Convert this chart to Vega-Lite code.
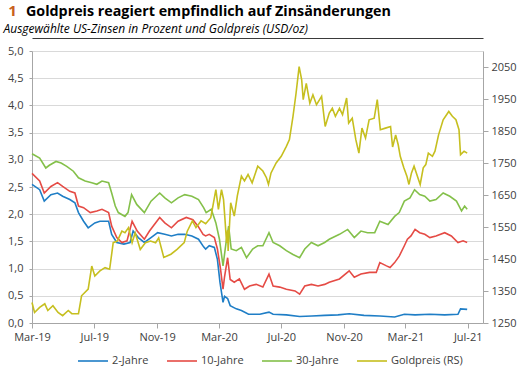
{
  "$schema": "https://vega.github.io/schema/vega-lite/v6.json",
  "width": 451,
  "height": 272,
  "autosize": {"type": "none"},
  "padding": {"left": 32, "top": 51, "right": 43, "bottom": 52},
  "background": "white",
  "config": {
    "locale": {"number": {"decimal": ",", "thousands": ".", "grouping": [3], "currency": ["", " €"]}},
    "font": "Open Sans",
    "view": {"stroke": null},
    "axis": {"labelFont": "Open Sans", "labelFontSize": 11, "labelColor": "#404040", "domainColor": "#a6a6a6", "tickColor": "#a6a6a6", "gridColor": "#d9d9d9", "labelFlush": false}
  },
  "title": {
    "text": "Goldpreis reagiert empfindlich auf Zinsänderungen",
    "anchor": "start",
    "frame": "group",
    "dx": -6,
    "offset": -15.5,
    "font": "Open Sans",
    "fontSize": 14.3,
    "fontWeight": "bold",
    "color": "#000000"
  },
  "data": {"values": [
    {"d":"2019-03-01","s":"2-Jahre","v":2.55},{"d":"2019-03-16","s":"2-Jahre","v":2.45},{"d":"2019-03-25","s":"2-Jahre","v":2.24},{"d":"2019-04-07","s":"2-Jahre","v":2.36},{"d":"2019-04-20","s":"2-Jahre","v":2.39},{"d":"2019-04-30","s":"2-Jahre","v":2.33},{"d":"2019-05-14","s":"2-Jahre","v":2.27},{"d":"2019-05-24","s":"2-Jahre","v":2.21},{"d":"2019-05-31","s":"2-Jahre","v":2.03},{"d":"2019-06-10","s":"2-Jahre","v":1.87},{"d":"2019-06-19","s":"2-Jahre","v":1.75},{"d":"2019-07-02","s":"2-Jahre","v":1.84},{"d":"2019-07-12","s":"2-Jahre","v":1.87},{"d":"2019-07-29","s":"2-Jahre","v":1.87},{"d":"2019-08-04","s":"2-Jahre","v":1.63},{"d":"2019-08-14","s":"2-Jahre","v":1.48},{"d":"2019-08-28","s":"2-Jahre","v":1.45},{"d":"2019-09-09","s":"2-Jahre","v":1.48},{"d":"2019-09-15","s":"2-Jahre","v":1.69},{"d":"2019-09-25","s":"2-Jahre","v":1.57},{"d":"2019-10-07","s":"2-Jahre","v":1.48},{"d":"2019-10-20","s":"2-Jahre","v":1.57},{"d":"2019-11-02","s":"2-Jahre","v":1.66},{"d":"2019-11-16","s":"2-Jahre","v":1.63},{"d":"2019-11-29","s":"2-Jahre","v":1.6},{"d":"2019-12-12","s":"2-Jahre","v":1.63},{"d":"2019-12-25","s":"2-Jahre","v":1.63},{"d":"2020-01-08","s":"2-Jahre","v":1.6},{"d":"2020-01-21","s":"2-Jahre","v":1.54},{"d":"2020-01-31","s":"2-Jahre","v":1.4},{"d":"2020-02-04","s":"2-Jahre","v":1.36},{"d":"2020-02-11","s":"2-Jahre","v":1.42},{"d":"2020-02-21","s":"2-Jahre","v":1.39},{"d":"2020-02-27","s":"2-Jahre","v":1.17},{"d":"2020-03-03","s":"2-Jahre","v":0.75},{"d":"2020-03-09","s":"2-Jahre","v":0.38},{"d":"2020-03-12","s":"2-Jahre","v":0.49},{"d":"2020-03-18","s":"2-Jahre","v":0.45},{"d":"2020-03-23","s":"2-Jahre","v":0.32},{"d":"2020-04-04","s":"2-Jahre","v":0.26},{"d":"2020-04-14","s":"2-Jahre","v":0.23},{"d":"2020-04-28","s":"2-Jahre","v":0.16},{"d":"2020-05-20","s":"2-Jahre","v":0.16},{"d":"2020-06-07","s":"2-Jahre","v":0.2},{"d":"2020-06-15","s":"2-Jahre","v":0.16},{"d":"2020-07-11","s":"2-Jahre","v":0.15},{"d":"2020-08-06","s":"2-Jahre","v":0.12},{"d":"2020-08-30","s":"2-Jahre","v":0.13},{"d":"2020-09-24","s":"2-Jahre","v":0.14},{"d":"2020-10-20","s":"2-Jahre","v":0.15},{"d":"2020-11-11","s":"2-Jahre","v":0.17},{"d":"2020-12-10","s":"2-Jahre","v":0.14},{"d":"2021-01-10","s":"2-Jahre","v":0.13},{"d":"2021-02-08","s":"2-Jahre","v":0.11},{"d":"2021-02-27","s":"2-Jahre","v":0.16},{"d":"2021-03-20","s":"2-Jahre","v":0.15},{"d":"2021-04-18","s":"2-Jahre","v":0.16},{"d":"2021-05-17","s":"2-Jahre","v":0.15},{"d":"2021-06-12","s":"2-Jahre","v":0.16},{"d":"2021-06-17","s":"2-Jahre","v":0.26},{"d":"2021-06-30","s":"2-Jahre","v":0.25},
    {"d":"2019-03-01","s":"10-Jahre","v":2.75},{"d":"2019-03-16","s":"10-Jahre","v":2.61},{"d":"2019-03-25","s":"10-Jahre","v":2.39},{"d":"2019-04-07","s":"10-Jahre","v":2.51},{"d":"2019-04-20","s":"10-Jahre","v":2.58},{"d":"2019-04-30","s":"10-Jahre","v":2.51},{"d":"2019-05-14","s":"10-Jahre","v":2.42},{"d":"2019-05-24","s":"10-Jahre","v":2.39},{"d":"2019-05-31","s":"10-Jahre","v":2.15},{"d":"2019-06-10","s":"10-Jahre","v":2.12},{"d":"2019-06-23","s":"10-Jahre","v":2.03},{"d":"2019-07-06","s":"10-Jahre","v":2.06},{"d":"2019-07-16","s":"10-Jahre","v":2.09},{"d":"2019-07-29","s":"10-Jahre","v":2.03},{"d":"2019-08-04","s":"10-Jahre","v":1.78},{"d":"2019-08-14","s":"10-Jahre","v":1.57},{"d":"2019-08-24","s":"10-Jahre","v":1.48},{"d":"2019-09-03","s":"10-Jahre","v":1.51},{"d":"2019-09-13","s":"10-Jahre","v":1.87},{"d":"2019-09-23","s":"10-Jahre","v":1.69},{"d":"2019-10-07","s":"10-Jahre","v":1.54},{"d":"2019-10-17","s":"10-Jahre","v":1.69},{"d":"2019-11-06","s":"10-Jahre","v":1.94},{"d":"2019-11-16","s":"10-Jahre","v":1.84},{"d":"2019-11-29","s":"10-Jahre","v":1.75},{"d":"2019-12-12","s":"10-Jahre","v":1.87},{"d":"2019-12-28","s":"10-Jahre","v":1.94},{"d":"2020-01-10","s":"10-Jahre","v":1.9},{"d":"2020-01-20","s":"10-Jahre","v":1.78},{"d":"2020-01-30","s":"10-Jahre","v":1.63},{"d":"2020-02-04","s":"10-Jahre","v":1.6},{"d":"2020-02-11","s":"10-Jahre","v":1.63},{"d":"2020-02-21","s":"10-Jahre","v":1.57},{"d":"2020-02-27","s":"10-Jahre","v":1.36},{"d":"2020-03-04","s":"10-Jahre","v":1.0},{"d":"2020-03-09","s":"10-Jahre","v":0.62},{"d":"2020-03-12","s":"10-Jahre","v":0.85},{"d":"2020-03-18","s":"10-Jahre","v":1.2},{"d":"2020-03-23","s":"10-Jahre","v":0.8},{"d":"2020-03-31","s":"10-Jahre","v":0.75},{"d":"2020-04-10","s":"10-Jahre","v":0.81},{"d":"2020-04-20","s":"10-Jahre","v":0.62},{"d":"2020-04-30","s":"10-Jahre","v":0.68},{"d":"2020-05-13","s":"10-Jahre","v":0.71},{"d":"2020-05-26","s":"10-Jahre","v":0.66},{"d":"2020-06-07","s":"10-Jahre","v":0.9},{"d":"2020-06-15","s":"10-Jahre","v":0.68},{"d":"2020-06-28","s":"10-Jahre","v":0.66},{"d":"2020-07-11","s":"10-Jahre","v":0.62},{"d":"2020-07-28","s":"10-Jahre","v":0.59},{"d":"2020-08-06","s":"10-Jahre","v":0.53},{"d":"2020-08-16","s":"10-Jahre","v":0.68},{"d":"2020-08-29","s":"10-Jahre","v":0.71},{"d":"2020-09-11","s":"10-Jahre","v":0.68},{"d":"2020-09-24","s":"10-Jahre","v":0.71},{"d":"2020-10-03","s":"10-Jahre","v":0.75},{"d":"2020-10-23","s":"10-Jahre","v":0.81},{"d":"2020-11-11","s":"10-Jahre","v":0.96},{"d":"2020-11-21","s":"10-Jahre","v":0.84},{"d":"2020-12-04","s":"10-Jahre","v":0.9},{"d":"2020-12-21","s":"10-Jahre","v":0.93},{"d":"2021-01-03","s":"10-Jahre","v":0.93},{"d":"2021-01-10","s":"10-Jahre","v":1.11},{"d":"2021-01-23","s":"10-Jahre","v":1.05},{"d":"2021-01-30","s":"10-Jahre","v":1.02},{"d":"2021-02-08","s":"10-Jahre","v":1.11},{"d":"2021-02-17","s":"10-Jahre","v":1.23},{"d":"2021-02-27","s":"10-Jahre","v":1.42},{"d":"2021-03-05","s":"10-Jahre","v":1.54},{"d":"2021-03-12","s":"10-Jahre","v":1.6},{"d":"2021-03-20","s":"10-Jahre","v":1.72},{"d":"2021-03-29","s":"10-Jahre","v":1.66},{"d":"2021-04-08","s":"10-Jahre","v":1.63},{"d":"2021-04-18","s":"10-Jahre","v":1.57},{"d":"2021-04-30","s":"10-Jahre","v":1.6},{"d":"2021-05-17","s":"10-Jahre","v":1.66},{"d":"2021-05-30","s":"10-Jahre","v":1.6},{"d":"2021-06-12","s":"10-Jahre","v":1.48},{"d":"2021-06-22","s":"10-Jahre","v":1.51},{"d":"2021-06-30","s":"10-Jahre","v":1.48},
    {"d":"2019-03-01","s":"30-Jahre","v":3.11},{"d":"2019-03-16","s":"30-Jahre","v":3.03},{"d":"2019-03-28","s":"30-Jahre","v":2.85},{"d":"2019-04-04","s":"30-Jahre","v":2.9},{"d":"2019-04-17","s":"30-Jahre","v":2.97},{"d":"2019-04-27","s":"30-Jahre","v":2.94},{"d":"2019-05-08","s":"30-Jahre","v":2.88},{"d":"2019-05-21","s":"30-Jahre","v":2.79},{"d":"2019-05-31","s":"30-Jahre","v":2.67},{"d":"2019-06-13","s":"30-Jahre","v":2.61},{"d":"2019-06-26","s":"30-Jahre","v":2.58},{"d":"2019-07-06","s":"30-Jahre","v":2.55},{"d":"2019-07-16","s":"30-Jahre","v":2.61},{"d":"2019-07-29","s":"30-Jahre","v":2.58},{"d":"2019-08-04","s":"30-Jahre","v":2.39},{"d":"2019-08-11","s":"30-Jahre","v":2.15},{"d":"2019-08-17","s":"30-Jahre","v":2.03},{"d":"2019-08-30","s":"30-Jahre","v":1.96},{"d":"2019-09-05","s":"30-Jahre","v":2.03},{"d":"2019-09-12","s":"30-Jahre","v":2.36},{"d":"2019-09-22","s":"30-Jahre","v":2.18},{"d":"2019-10-07","s":"30-Jahre","v":2.03},{"d":"2019-10-20","s":"30-Jahre","v":2.24},{"d":"2019-11-06","s":"30-Jahre","v":2.39},{"d":"2019-11-16","s":"30-Jahre","v":2.3},{"d":"2019-11-29","s":"30-Jahre","v":2.21},{"d":"2019-12-12","s":"30-Jahre","v":2.3},{"d":"2019-12-25","s":"30-Jahre","v":2.36},{"d":"2020-01-08","s":"30-Jahre","v":2.33},{"d":"2020-01-21","s":"30-Jahre","v":2.27},{"d":"2020-01-31","s":"30-Jahre","v":2.12},{"d":"2020-02-05","s":"30-Jahre","v":2.03},{"d":"2020-02-15","s":"30-Jahre","v":2.09},{"d":"2020-02-24","s":"30-Jahre","v":1.84},{"d":"2020-03-02","s":"30-Jahre","v":1.54},{"d":"2020-03-09","s":"30-Jahre","v":1.05},{"d":"2020-03-15","s":"30-Jahre","v":1.48},{"d":"2020-03-20","s":"30-Jahre","v":1.78},{"d":"2020-03-25","s":"30-Jahre","v":1.36},{"d":"2020-04-04","s":"30-Jahre","v":1.33},{"d":"2020-04-14","s":"30-Jahre","v":1.39},{"d":"2020-04-24","s":"30-Jahre","v":1.2},{"d":"2020-05-06","s":"30-Jahre","v":1.36},{"d":"2020-05-16","s":"30-Jahre","v":1.42},{"d":"2020-05-26","s":"30-Jahre","v":1.42},{"d":"2020-06-07","s":"30-Jahre","v":1.66},{"d":"2020-06-15","s":"30-Jahre","v":1.48},{"d":"2020-06-28","s":"30-Jahre","v":1.42},{"d":"2020-07-11","s":"30-Jahre","v":1.33},{"d":"2020-07-24","s":"30-Jahre","v":1.26},{"d":"2020-08-06","s":"30-Jahre","v":1.2},{"d":"2020-08-16","s":"30-Jahre","v":1.36},{"d":"2020-08-29","s":"30-Jahre","v":1.48},{"d":"2020-09-11","s":"30-Jahre","v":1.42},{"d":"2020-09-24","s":"30-Jahre","v":1.48},{"d":"2020-10-03","s":"30-Jahre","v":1.54},{"d":"2020-10-23","s":"30-Jahre","v":1.63},{"d":"2020-11-08","s":"30-Jahre","v":1.72},{"d":"2020-11-21","s":"30-Jahre","v":1.57},{"d":"2020-12-04","s":"30-Jahre","v":1.69},{"d":"2020-12-17","s":"30-Jahre","v":1.66},{"d":"2020-12-31","s":"30-Jahre","v":1.66},{"d":"2021-01-10","s":"30-Jahre","v":1.87},{"d":"2021-01-26","s":"30-Jahre","v":1.81},{"d":"2021-02-08","s":"30-Jahre","v":1.96},{"d":"2021-02-17","s":"30-Jahre","v":2.03},{"d":"2021-02-27","s":"30-Jahre","v":2.24},{"d":"2021-03-10","s":"30-Jahre","v":2.3},{"d":"2021-03-19","s":"30-Jahre","v":2.45},{"d":"2021-03-29","s":"30-Jahre","v":2.36},{"d":"2021-04-08","s":"30-Jahre","v":2.33},{"d":"2021-04-18","s":"30-Jahre","v":2.24},{"d":"2021-04-30","s":"30-Jahre","v":2.27},{"d":"2021-05-14","s":"30-Jahre","v":2.39},{"d":"2021-05-27","s":"30-Jahre","v":2.33},{"d":"2021-06-09","s":"30-Jahre","v":2.24},{"d":"2021-06-19","s":"30-Jahre","v":2.06},{"d":"2021-06-25","s":"30-Jahre","v":2.15},{"d":"2021-06-30","s":"30-Jahre","v":2.09},
    {"d":"2019-03-01","s":"Goldpreis (RS)","v":1314},{"d":"2019-03-06","s":"Goldpreis (RS)","v":1283},{"d":"2019-03-16","s":"Goldpreis (RS)","v":1299},{"d":"2019-03-26","s":"Goldpreis (RS)","v":1310},{"d":"2019-04-01","s":"Goldpreis (RS)","v":1289},{"d":"2019-04-11","s":"Goldpreis (RS)","v":1304},{"d":"2019-04-21","s":"Goldpreis (RS)","v":1283},{"d":"2019-04-30","s":"Goldpreis (RS)","v":1273},{"d":"2019-05-11","s":"Goldpreis (RS)","v":1289},{"d":"2019-05-18","s":"Goldpreis (RS)","v":1279},{"d":"2019-05-31","s":"Goldpreis (RS)","v":1279},{"d":"2019-06-06","s":"Goldpreis (RS)","v":1335},{"d":"2019-06-19","s":"Goldpreis (RS)","v":1356},{"d":"2019-06-26","s":"Goldpreis (RS)","v":1428},{"d":"2019-07-02","s":"Goldpreis (RS)","v":1397},{"d":"2019-07-12","s":"Goldpreis (RS)","v":1413},{"d":"2019-07-22","s":"Goldpreis (RS)","v":1423},{"d":"2019-07-31","s":"Goldpreis (RS)","v":1418},{"d":"2019-08-07","s":"Goldpreis (RS)","v":1501},{"d":"2019-08-15","s":"Goldpreis (RS)","v":1506},{"d":"2019-08-24","s":"Goldpreis (RS)","v":1537},{"d":"2019-08-30","s":"Goldpreis (RS)","v":1532},{"d":"2019-09-06","s":"Goldpreis (RS)","v":1548},{"d":"2019-09-13","s":"Goldpreis (RS)","v":1501},{"d":"2019-09-19","s":"Goldpreis (RS)","v":1532},{"d":"2019-09-29","s":"Goldpreis (RS)","v":1480},{"d":"2019-10-09","s":"Goldpreis (RS)","v":1501},{"d":"2019-10-19","s":"Goldpreis (RS)","v":1506},{"d":"2019-10-29","s":"Goldpreis (RS)","v":1501},{"d":"2019-11-04","s":"Goldpreis (RS)","v":1516},{"d":"2019-11-14","s":"Goldpreis (RS)","v":1455},{"d":"2019-11-28","s":"Goldpreis (RS)","v":1465},{"d":"2019-12-10","s":"Goldpreis (RS)","v":1480},{"d":"2019-12-24","s":"Goldpreis (RS)","v":1501},{"d":"2019-12-30","s":"Goldpreis (RS)","v":1537},{"d":"2020-01-09","s":"Goldpreis (RS)","v":1569},{"d":"2020-01-16","s":"Goldpreis (RS)","v":1548},{"d":"2020-01-26","s":"Goldpreis (RS)","v":1569},{"d":"2020-02-04","s":"Goldpreis (RS)","v":1560},{"d":"2020-02-14","s":"Goldpreis (RS)","v":1579},{"d":"2020-02-24","s":"Goldpreis (RS)","v":1667},{"d":"2020-02-29","s":"Goldpreis (RS)","v":1605},{"d":"2020-03-06","s":"Goldpreis (RS)","v":1667},{"d":"2020-03-10","s":"Goldpreis (RS)","v":1636},{"d":"2020-03-13","s":"Goldpreis (RS)","v":1570},{"d":"2020-03-16","s":"Goldpreis (RS)","v":1500},{"d":"2020-03-18","s":"Goldpreis (RS)","v":1540},{"d":"2020-03-19","s":"Goldpreis (RS)","v":1475},{"d":"2020-03-24","s":"Goldpreis (RS)","v":1626},{"d":"2020-03-31","s":"Goldpreis (RS)","v":1584},{"d":"2020-04-06","s":"Goldpreis (RS)","v":1647},{"d":"2020-04-14","s":"Goldpreis (RS)","v":1709},{"d":"2020-04-20","s":"Goldpreis (RS)","v":1694},{"d":"2020-04-27","s":"Goldpreis (RS)","v":1714},{"d":"2020-05-05","s":"Goldpreis (RS)","v":1688},{"d":"2020-05-16","s":"Goldpreis (RS)","v":1740},{"d":"2020-05-26","s":"Goldpreis (RS)","v":1725},{"d":"2020-06-02","s":"Goldpreis (RS)","v":1704},{"d":"2020-06-06","s":"Goldpreis (RS)","v":1683},{"d":"2020-06-11","s":"Goldpreis (RS)","v":1719},{"d":"2020-06-21","s":"Goldpreis (RS)","v":1750},{"d":"2020-07-01","s":"Goldpreis (RS)","v":1771},{"d":"2020-07-11","s":"Goldpreis (RS)","v":1802},{"d":"2020-07-17","s":"Goldpreis (RS)","v":1823},{"d":"2020-07-24","s":"Goldpreis (RS)","v":1896},{"d":"2020-07-30","s":"Goldpreis (RS)","v":1968},{"d":"2020-08-05","s":"Goldpreis (RS)","v":2051},{"d":"2020-08-10","s":"Goldpreis (RS)","v":2010},{"d":"2020-08-13","s":"Goldpreis (RS)","v":1948},{"d":"2020-08-19","s":"Goldpreis (RS)","v":1999},{"d":"2020-08-26","s":"Goldpreis (RS)","v":1937},{"d":"2020-09-01","s":"Goldpreis (RS)","v":1963},{"d":"2020-09-08","s":"Goldpreis (RS)","v":1932},{"d":"2020-09-18","s":"Goldpreis (RS)","v":1958},{"d":"2020-09-25","s":"Goldpreis (RS)","v":1864},{"d":"2020-10-03","s":"Goldpreis (RS)","v":1906},{"d":"2020-10-09","s":"Goldpreis (RS)","v":1921},{"d":"2020-10-15","s":"Goldpreis (RS)","v":1896},{"d":"2020-10-23","s":"Goldpreis (RS)","v":1921},{"d":"2020-10-29","s":"Goldpreis (RS)","v":1901},{"d":"2020-11-06","s":"Goldpreis (RS)","v":1953},{"d":"2020-11-10","s":"Goldpreis (RS)","v":1875},{"d":"2020-11-17","s":"Goldpreis (RS)","v":1890},{"d":"2020-11-24","s":"Goldpreis (RS)","v":1823},{"d":"2020-11-30","s":"Goldpreis (RS)","v":1781},{"d":"2020-12-06","s":"Goldpreis (RS)","v":1859},{"d":"2020-12-13","s":"Goldpreis (RS)","v":1828},{"d":"2020-12-20","s":"Goldpreis (RS)","v":1885},{"d":"2020-12-30","s":"Goldpreis (RS)","v":1890},{"d":"2021-01-05","s":"Goldpreis (RS)","v":1948},{"d":"2021-01-11","s":"Goldpreis (RS)","v":1854},{"d":"2021-01-21","s":"Goldpreis (RS)","v":1859},{"d":"2021-01-31","s":"Goldpreis (RS)","v":1864},{"d":"2021-02-04","s":"Goldpreis (RS)","v":1800},{"d":"2021-02-10","s":"Goldpreis (RS)","v":1838},{"d":"2021-02-15","s":"Goldpreis (RS)","v":1807},{"d":"2021-02-19","s":"Goldpreis (RS)","v":1771},{"d":"2021-02-26","s":"Goldpreis (RS)","v":1735},{"d":"2021-03-04","s":"Goldpreis (RS)","v":1709},{"d":"2021-03-08","s":"Goldpreis (RS)","v":1683},{"d":"2021-03-13","s":"Goldpreis (RS)","v":1719},{"d":"2021-03-18","s":"Goldpreis (RS)","v":1740},{"d":"2021-03-30","s":"Goldpreis (RS)","v":1683},{"d":"2021-04-05","s":"Goldpreis (RS)","v":1735},{"d":"2021-04-10","s":"Goldpreis (RS)","v":1745},{"d":"2021-04-15","s":"Goldpreis (RS)","v":1781},{"d":"2021-04-23","s":"Goldpreis (RS)","v":1771},{"d":"2021-04-28","s":"Goldpreis (RS)","v":1787},{"d":"2021-05-05","s":"Goldpreis (RS)","v":1838},{"d":"2021-05-14","s":"Goldpreis (RS)","v":1885},{"d":"2021-05-25","s":"Goldpreis (RS)","v":1911},{"d":"2021-06-01","s":"Goldpreis (RS)","v":1896},{"d":"2021-06-08","s":"Goldpreis (RS)","v":1885},{"d":"2021-06-14","s":"Goldpreis (RS)","v":1854},{"d":"2021-06-17","s":"Goldpreis (RS)","v":1776},{"d":"2021-06-24","s":"Goldpreis (RS)","v":1787},{"d":"2021-06-30","s":"Goldpreis (RS)","v":1781}
  ]},
  "encoding": {
    "x": {
      "field": "d", "type": "temporal",
      "scale": {"type": "utc", "domain": [{"year": 2019, "month": 3, "date": 1, "utc": true}, {"year": 2021, "month": 7, "date": 31, "utc": true}]},
      "axis": {
        "title": null, "grid": false, "labelExpr": "utcFormat(datum.value, '%b-%y')",
        "values": [
          {"year": 2019, "month": 3, "date": 1, "utc": true}, {"year": 2019, "month": 7, "date": 1, "utc": true}, {"year": 2019, "month": 11, "date": 1, "utc": true},
          {"year": 2020, "month": 3, "date": 1, "utc": true}, {"year": 2020, "month": 7, "date": 1, "utc": true}, {"year": 2020, "month": 11, "date": 1, "utc": true},
          {"year": 2021, "month": 3, "date": 1, "utc": true}, {"year": 2021, "month": 7, "date": 1, "utc": true}
        ],
        "tickSize": 5, "labelPadding": 3
      }
    },
    "color": {
      "field": "s", "type": "nominal",
      "scale": {"domain": ["2-Jahre", "10-Jahre", "30-Jahre", "Goldpreis (RS)"], "range": ["#1f7ec6", "#e54b45", "#84c04a", "#c6bf1f"]},
      "legend": {
        "title": null, "orient": "none", "direction": "horizontal", "legendX": 45, "legendY": 294,
        "symbolType": "stroke", "symbolSize": 900, "symbolStrokeWidth": 1.6,
        "labelFont": "Open Sans", "labelFontSize": 11, "labelColor": "#404040", "labelOffset": 3, "columnPadding": 14, "padding": 0
      }
    }
  },
  "layer": [
    {
      "transform": [{"filter": "datum.s !== 'Goldpreis (RS)'"}],
      "mark": {"type": "line", "strokeWidth": 1.6, "interpolate": "linear"},
      "encoding": {
        "y": {
          "field": "v", "type": "quantitative",
          "scale": {"domain": [0, 5], "nice": false, "zero": false},
          "axis": {
            "values": [0, 0.5, 1, 1.5, 2, 2.5, 3, 3.5, 4, 4.5, 5], "format": ".1f", "grid": true, "tickSize": 3, "labelPadding": 6,
            "title": "Ausgewählte US-Zinsen in Prozent und Goldpreis (USD/oz)", "titleAngle": 0, "titleAlign": "left", "titleBaseline": "alphabetic",
            "titleX": -29, "titleY": -18.5, "titleFont": "Open Sans", "titleFontStyle": "italic", "titleFontWeight": "normal", "titleFontSize": 12, "titleColor": "#000000"
          }
        }
      }
    },
    {
      "transform": [{"filter": "datum.s === 'Goldpreis (RS)'"}],
      "mark": {"type": "line", "strokeWidth": 1.6, "interpolate": "linear"},
      "encoding": {
        "x": {
          "field": "d", "type": "temporal",
          "scale": {"type": "utc", "domain": [{"year": 2019, "month": 3, "date": 1, "utc": true}, {"year": 2021, "month": 7, "date": 31, "utc": true}]},
          "axis": {"orient": "top", "title": null, "labels": false, "ticks": false, "grid": false, "domain": true, "domainColor": "#3a3a3a", "domainWidth": 1, "offset": 13}
        },
        "y": {
          "field": "v", "type": "quantitative",
          "scale": {"domain": [1250, 2100], "nice": false, "zero": false},
          "axis": {
            "orient": "right", "values": [1250, 1350, 1450, 1550, 1650, 1750, 1850, 1950, 2050], "format": "d", "grid": false, "tickSize": 5, "labelPadding": 3,
            "title": "1", "titleAngle": 0, "titleAlign": "center", "titleBaseline": "alphabetic",
            "titleX": -471, "titleY": -35.5, "titleFont": "Open Sans", "titleFontWeight": "bold", "titleFontSize": 15, "titleColor": "#c8611e"
          }
        }
      }
    }
  ],
  "resolve": {"scale": {"y": "independent"}, "axis": {"x": "independent"}}
}
